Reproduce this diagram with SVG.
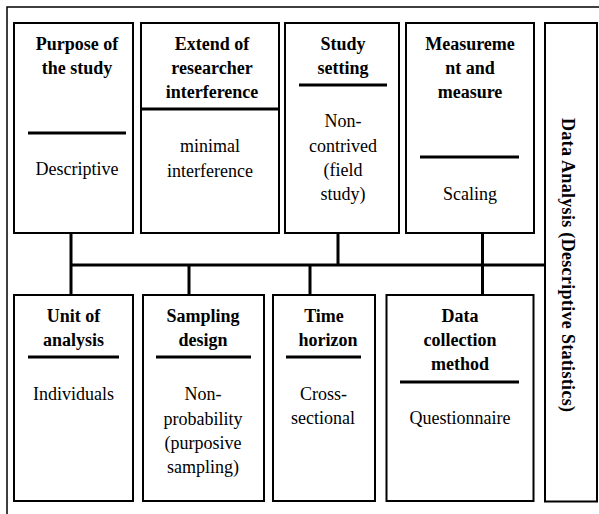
<svg xmlns="http://www.w3.org/2000/svg" width="599" height="514" viewBox="0 0 599 514">
<style>
.box{fill:#fff;stroke:#000;stroke-width:2}
.div{stroke:#000;stroke-width:3}
.con{stroke:#000;stroke-width:3;fill:none}
.t{font-family:'Liberation Serif',serif;font-size:18px;fill:#000;text-anchor:middle}
.h{font-weight:bold}
</style>
<rect x="0" y="0" width="599" height="514" fill="#fff"/>
<path d="M7,514 V7 H599" fill="none" stroke="#000" stroke-width="1.5"/>
<g id="connectors">
<path class="con" d="M71,233 V295 M71,265 H545 M189,265 V295 M338,233 V265 M310,265 V295 M482.5,233 V295"/>
</g>
<g class="t" font-family="Liberation Serif, serif">
<g id="purpose">
<rect class="box" x="14" y="23" width="119" height="210"/>
<text class="h" x="77" y="50">Purpose of</text>
<text class="h" x="77" y="74">the study</text>
<line class="div" x1="28" y1="133" x2="126" y2="133"/>
<text x="77" y="175">Descriptive</text>
</g>
<g id="interference">
<rect class="box" x="141" y="23" width="138" height="210"/>
<text class="h" x="212" y="50">Extend of</text>
<text class="h" x="212" y="74">researcher</text>
<text class="h" x="212" y="98">interference</text>
<line class="div" x1="141" y1="109" x2="279" y2="109"/>
<text x="210" y="152">minimal</text>
<text x="210" y="176.5">interference</text>
</g>
<g id="setting">
<rect class="box" x="285" y="23" width="114" height="210"/>
<text class="h" x="343" y="50">Study</text>
<text class="h" x="343" y="74">setting</text>
<line class="div" x1="299" y1="85" x2="387" y2="85"/>
<text x="343" y="127">Non-</text>
<text x="343" y="152">contrived</text>
<text x="343" y="176">(field</text>
<text x="343" y="200">study)</text>
</g>
<g id="measurement">
<rect class="box" x="406" y="23" width="128" height="210"/>
<text class="h" x="470" y="50">Measureme</text>
<text class="h" x="470" y="74">nt and</text>
<text class="h" x="470" y="98">measure</text>
<line class="div" x1="420" y1="157" x2="519" y2="157"/>
<text x="470" y="200">Scaling</text>
</g>
<g id="data-analysis">
<rect class="box" x="545" y="23" width="52" height="478.5"/>
<text class="h" transform="translate(562,265) rotate(90)" x="0" y="0" textLength="294" lengthAdjust="spacing">Data Analysis (Descriptive Statistics)</text>
</g>
<g id="unit">
<rect class="box" x="14" y="295" width="119" height="206"/>
<text class="h" x="73.5" y="322">Unit of</text>
<text class="h" x="73.5" y="346">analysis</text>
<line class="div" x1="28" y1="357" x2="119" y2="357"/>
<text x="73.5" y="400">Individuals</text>
</g>
<g id="sampling">
<rect class="box" x="143" y="295" width="121" height="206"/>
<text class="h" x="203" y="322">Sampling</text>
<text class="h" x="203" y="346">design</text>
<line class="div" x1="156" y1="357" x2="251" y2="357"/>
<text x="203" y="400">Non-</text>
<text x="203" y="425">probability</text>
<text x="203" y="449">(purposive</text>
<text x="203" y="473">sampling)</text>
</g>
<g id="time">
<rect class="box" x="273" y="295" width="102" height="206"/>
<text class="h" x="324" y="322">Time</text>
<text class="h" x="328" y="346">horizon</text>
<line class="div" x1="286" y1="357" x2="361" y2="357"/>
<text x="323.5" y="400">Cross-</text>
<text x="323" y="424">sectional</text>
</g>
<g id="collection">
<rect class="box" x="386.5" y="295" width="147" height="206"/>
<text class="h" x="460" y="322">Data</text>
<text class="h" x="460" y="346">collection</text>
<text class="h" x="460" y="370">method</text>
<line class="div" x1="400" y1="382" x2="519" y2="382"/>
<text x="460" y="424">Questionnaire</text>
</g>
</g>
</svg>
